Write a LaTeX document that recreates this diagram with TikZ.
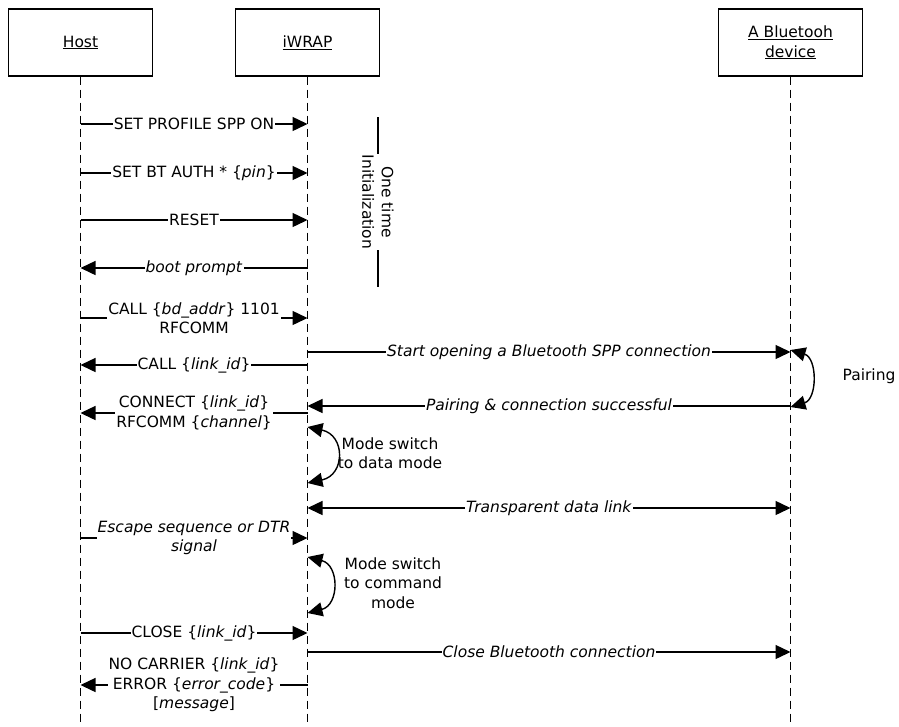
\documentclass[tikz,border=0pt]{standalone}
\usepackage{fontspec}
\setmainfont{DejaVu Sans}
\usetikzlibrary{arrows.meta}
\tikzset{
  actor/.style={
    rectangle,
    minimum width=144pt,
    minimum height=67pt,
    align=center,
    draw=black,
    line width=1.2pt
    },
  lifeline/.style={
    line width=1.2pt,
    dash pattern=on 8pt off 5pt
    },
  msg/.style={line width=1.4pt,-{Triangle[length=15pt,width=14pt]}},
  twoway/.style={line width=1.4pt,{Triangle[length=15pt,width=14pt]}-{Triangle[length=15pt,width=14pt]}},
  lbl/.style={
    fill=white,
    inner sep=1pt,
    align=center
    },
  note/.style={align=center},
}

\begin{document}
\begin{tikzpicture}[
  x=1pt, y=-1pt,
  font=\fontsize{15.5}{19.5}\selectfont
  ]
\useasboundingbox (0,0) rectangle (899,726);
\node (host) [actor] at (80.5,42.5) {\underline{Host}};
\node (iwrap) [actor] at (307.5,42.5) {\underline{iWRAP}};
\node (bt) [actor] at (790.5,42.5) {\underline{A Bluetooh}\\\underline{device}};
\coordinate (bottom) at (0,726);
\draw[lifeline] (host.south) -- (host |- bottom);
\draw[lifeline] (iwrap.south) -- (iwrap |- bottom);
\draw[lifeline] (bt.south) -- (bt |- bottom);
% message rows
\foreach \r/\y in {setprof/124, setauth/173, reset/220, boot/268, callout/318,
  startbt/352, callin/365, pairok/406, connect/413, datalink/508, escape/538,
  closecmd/633, closebt/652, nocarrier/685,
  pairtop/350, pairbot/407, datatop/427, databot/483, cmdtop/557, cmdbot/613}
  \coordinate (\r) at (0,\y);
% initialization
\draw[msg] (host |- setprof) -- node[lbl] {SET PROFILE SPP ON} (iwrap |- setprof);
\draw[msg] (host |- setauth) -- node[lbl] {SET BT AUTH * \{\textit{pin}\}} (iwrap |- setauth);
\draw[msg] (host |- reset) -- node[lbl] {RESET} (iwrap |- reset);
\draw[msg] (iwrap |- boot) -- node[lbl] {\textit{boot prompt}} (host |- boot);
\coordinate (inittop) at (378,117);
\coordinate (initbot) at (378,287);
\draw[line width=1.4pt] (inittop) -- node[lbl, rotate=-90] {One time\\Initialization} (initbot);
% connection
\draw[msg] (host |- callout) -- node[lbl] {CALL \{\textit{bd\_addr}\} 1101\\RFCOMM} (iwrap |- callout);
\draw[msg] (iwrap |- callin) -- node[lbl] {CALL \{\textit{link\_id}\}} (host |- callin);
\draw[msg] (iwrap |- startbt) -- node[lbl] {\textit{Start opening a Bluetooth SPP connection}} (bt |- startbt);
\draw[twoway] (bt |- pairtop) .. controls +(27,8) and +(27,-8) .. (bt |- pairbot);
\node (pairlbl) [note] at (869,376) {Pairing};
\draw[msg] (bt |- pairok) -- node[lbl] {\textit{Pairing \& connection successful}} (iwrap |- pairok);
\draw[msg] (iwrap |- connect) -- node[lbl] {CONNECT \{\textit{link\_id}\}\\RFCOMM \{\textit{channel}\}} (host |- connect);
\draw[twoway] (iwrap |- datatop) .. controls +(38,8) and +(38,-8) .. (iwrap |- databot);
\node (datamode) [note] at (390,453) {Mode switch\\to data mode};
\draw[twoway] (iwrap |- datalink) -- node[lbl] {\textit{Transparent data link}} (bt |- datalink);
% closing
\draw[msg] (host |- escape) -- node[lbl] {\textit{Escape sequence or DTR}\\\textit{signal}} (iwrap |- escape);
\draw[twoway] (iwrap |- cmdtop) .. controls +(32,8) and +(32,-8) .. (iwrap |- cmdbot);
\node (cmdmode) [note] at (393,583) {Mode switch\\to command\\mode};
\draw[msg] (host |- closecmd) -- node[lbl] {CLOSE \{\textit{link\_id}\}} (iwrap |- closecmd);
\draw[msg] (iwrap |- closebt) -- node[lbl] {\textit{Close Bluetooth connection}} (bt |- closebt);
\draw[msg] (iwrap |- nocarrier) -- node[lbl] {NO CARRIER \{\textit{link\_id}\}\\ERROR \{\textit{error\_code}\}\\{}[\textit{message}]} (host |- nocarrier);
\end{tikzpicture}
\end{document}
